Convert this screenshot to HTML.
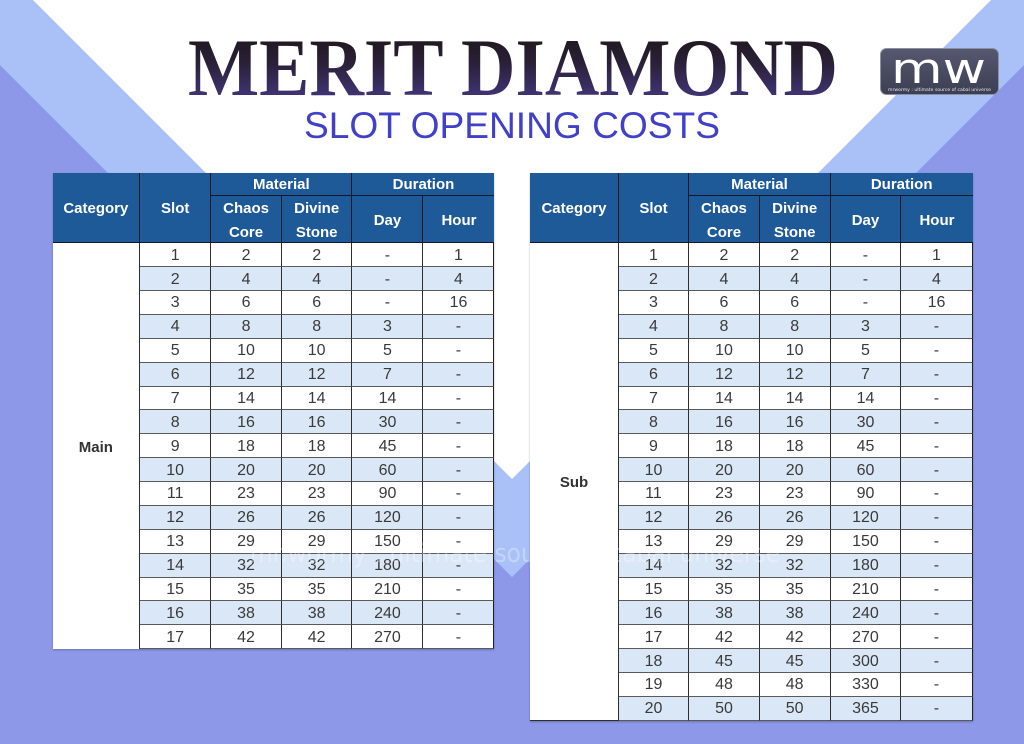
<!DOCTYPE html>
<html>
<head>
<meta charset="utf-8">
<style>
  html,body{margin:0;padding:0;}
  body{width:1024px;height:744px;position:relative;overflow:hidden;background:#fff;font-family:"Liberation Sans",Arial,sans-serif;}
  .bg{position:absolute;left:0;top:0;}
  .tbl{position:absolute;top:172.7px;display:grid;
       grid-template-rows:23.3px 47.3px;grid-auto-rows:23.88px;
       box-shadow:0 1px 2px rgba(0,0,0,0.25);}
  .tbl > div.h, .tbl > div.cat, .tbl > .r > div{box-sizing:border-box;display:flex;align-items:center;justify-content:center;text-align:center;}
  .tbl > .r{display:contents;}
  .h{background:#1f5a98;color:#fff;font-weight:bold;font-size:15px;line-height:24px;padding-top:3px;border-right:1px solid #0d1a2c;border-bottom:1px solid #0d1a2c;}
  .h.last{border-right:none;}
  .r > div{background:#fff;color:#3a3a3a;font-size:16px;padding-top:2px;border-right:1px solid #2e2e2e;border-bottom:1px solid #5a5a5a;}
  .r.b > div{background:#dae7f6;}
  .r > div:last-child{border-right:1px solid #1e1e1e;}
  .cat{background:#fff;color:#333;font-weight:bold;font-size:15px;padding-top:2px;border-right:1px solid #2e2e2e;}
  .wm{position:absolute;left:0;top:0;pointer-events:none;}
</style>
</head>
<body>
<svg class="bg" width="1024" height="744" viewBox="0 0 1024 744">
  <rect width="1024" height="744" fill="#ffffff"/>
  <polygon points="0,0 33,0 512,479 991,0 1024,0 1024,744 0,744" fill="#a9c1f6"/>
  <polygon points="0,65 512,577 1024,65 1024,744 0,744" fill="#8d99e8"/>
  <defs>
    <linearGradient id="tg" x1="0" y1="0" x2="0" y2="1">
      <stop offset="0" stop-color="#1a1210"/>
      <stop offset="0.45" stop-color="#2a2038"/>
      <stop offset="1" stop-color="#4a3e92"/>
    </linearGradient>
    <linearGradient id="lg" x1="0" y1="0" x2="0" y2="1">
      <stop offset="0" stop-color="#55586f"/>
      <stop offset="1" stop-color="#3c3e52"/>
    </linearGradient>
  </defs>
  <text x="188" y="95" textLength="650" lengthAdjust="spacingAndGlyphs" font-family="Liberation Serif, serif" font-weight="bold" font-size="82" fill="url(#tg)">MERIT DIAMOND</text>
  <text x="304" y="138" textLength="416" lengthAdjust="spacingAndGlyphs" font-family="Liberation Sans, sans-serif" font-size="37" fill="#4040c8">SLOT OPENING COSTS</text>
  <rect x="880.5" y="48.5" width="118" height="46" rx="6" fill="url(#lg)" stroke="#8c8fa6" stroke-width="1"/>
  <text x="891" y="83" textLength="95" lengthAdjust="spacingAndGlyphs" font-family="DejaVu Sans, sans-serif" font-size="42" fill="#ffffff">mw</text>
  <text x="888" y="91" textLength="103" lengthAdjust="spacingAndGlyphs" font-family="DejaVu Sans, sans-serif" font-size="4.5" fill="#e8e8f0">mrwormy : ultimate source of cabal universe</text>
</svg>

<!-- LEFT TABLE -->
<div class="tbl" style="left:52.5px;grid-template-columns:87.7px 71px 70.7px 70.6px 71px 71px;">
  <div class="h" style="grid-row:1 / span 2;grid-column:1;">Category</div>
  <div class="h" style="grid-row:1 / span 2;grid-column:2;">Slot</div>
  <div class="h" style="grid-row:1;grid-column:3 / span 2;">Material</div>
  <div class="h last" style="grid-row:1;grid-column:5 / span 2;">Duration</div>
  <div class="h" style="grid-row:2;grid-column:3;">Chaos<br>Core</div>
  <div class="h" style="grid-row:2;grid-column:4;">Divine<br>Stone</div>
  <div class="h" style="grid-row:2;grid-column:5;">Day</div>
  <div class="h last" style="grid-row:2;grid-column:6;">Hour</div>
  <div class="cat" style="grid-row:3 / span 17;grid-column:1;">Main</div>
  <div class="r"><div>1</div><div>2</div><div>2</div><div>-</div><div>1</div></div>
  <div class="r b"><div>2</div><div>4</div><div>4</div><div>-</div><div>4</div></div>
  <div class="r"><div>3</div><div>6</div><div>6</div><div>-</div><div>16</div></div>
  <div class="r b"><div>4</div><div>8</div><div>8</div><div>3</div><div>-</div></div>
  <div class="r"><div>5</div><div>10</div><div>10</div><div>5</div><div>-</div></div>
  <div class="r b"><div>6</div><div>12</div><div>12</div><div>7</div><div>-</div></div>
  <div class="r"><div>7</div><div>14</div><div>14</div><div>14</div><div>-</div></div>
  <div class="r b"><div>8</div><div>16</div><div>16</div><div>30</div><div>-</div></div>
  <div class="r"><div>9</div><div>18</div><div>18</div><div>45</div><div>-</div></div>
  <div class="r b"><div>10</div><div>20</div><div>20</div><div>60</div><div>-</div></div>
  <div class="r"><div>11</div><div>23</div><div>23</div><div>90</div><div>-</div></div>
  <div class="r b"><div>12</div><div>26</div><div>26</div><div>120</div><div>-</div></div>
  <div class="r"><div>13</div><div>29</div><div>29</div><div>150</div><div>-</div></div>
  <div class="r b"><div>14</div><div>32</div><div>32</div><div>180</div><div>-</div></div>
  <div class="r"><div>15</div><div>35</div><div>35</div><div>210</div><div>-</div></div>
  <div class="r b"><div>16</div><div>38</div><div>38</div><div>240</div><div>-</div></div>
  <div class="r"><div>17</div><div>42</div><div>42</div><div>270</div><div>-</div></div>
</div>

<!-- RIGHT TABLE -->
<div class="tbl" style="left:530.3px;grid-template-columns:88.4px 70.6px 70.4px 71px 70.6px 71.4px;">
  <div class="h" style="grid-row:1 / span 2;grid-column:1;">Category</div>
  <div class="h" style="grid-row:1 / span 2;grid-column:2;">Slot</div>
  <div class="h" style="grid-row:1;grid-column:3 / span 2;">Material</div>
  <div class="h last" style="grid-row:1;grid-column:5 / span 2;">Duration</div>
  <div class="h" style="grid-row:2;grid-column:3;">Chaos<br>Core</div>
  <div class="h" style="grid-row:2;grid-column:4;">Divine<br>Stone</div>
  <div class="h" style="grid-row:2;grid-column:5;">Day</div>
  <div class="h last" style="grid-row:2;grid-column:6;">Hour</div>
  <div class="cat" style="grid-row:3 / span 20;grid-column:1;border-bottom:1px solid #2e2e2e;">Sub</div>
  <div class="r"><div>1</div><div>2</div><div>2</div><div>-</div><div>1</div></div>
  <div class="r b"><div>2</div><div>4</div><div>4</div><div>-</div><div>4</div></div>
  <div class="r"><div>3</div><div>6</div><div>6</div><div>-</div><div>16</div></div>
  <div class="r b"><div>4</div><div>8</div><div>8</div><div>3</div><div>-</div></div>
  <div class="r"><div>5</div><div>10</div><div>10</div><div>5</div><div>-</div></div>
  <div class="r b"><div>6</div><div>12</div><div>12</div><div>7</div><div>-</div></div>
  <div class="r"><div>7</div><div>14</div><div>14</div><div>14</div><div>-</div></div>
  <div class="r b"><div>8</div><div>16</div><div>16</div><div>30</div><div>-</div></div>
  <div class="r"><div>9</div><div>18</div><div>18</div><div>45</div><div>-</div></div>
  <div class="r b"><div>10</div><div>20</div><div>20</div><div>60</div><div>-</div></div>
  <div class="r"><div>11</div><div>23</div><div>23</div><div>90</div><div>-</div></div>
  <div class="r b"><div>12</div><div>26</div><div>26</div><div>120</div><div>-</div></div>
  <div class="r"><div>13</div><div>29</div><div>29</div><div>150</div><div>-</div></div>
  <div class="r b"><div>14</div><div>32</div><div>32</div><div>180</div><div>-</div></div>
  <div class="r"><div>15</div><div>35</div><div>35</div><div>210</div><div>-</div></div>
  <div class="r b"><div>16</div><div>38</div><div>38</div><div>240</div><div>-</div></div>
  <div class="r"><div>17</div><div>42</div><div>42</div><div>270</div><div>-</div></div>
  <div class="r b"><div>18</div><div>45</div><div>45</div><div>300</div><div>-</div></div>
  <div class="r"><div>19</div><div>48</div><div>48</div><div>330</div><div>-</div></div>
  <div class="r b"><div>20</div><div>50</div><div>50</div><div>365</div><div>-</div></div>
</div>

<svg class="wm" width="1024" height="744" viewBox="0 0 1024 744">
  <text x="250" y="562" textLength="530" lengthAdjust="spacingAndGlyphs" font-family="DejaVu Sans, sans-serif" font-size="26" fill="#ffffff" fill-opacity="0.3">mr.wormy : ultimate source of cabal universe</text>
</svg>
</body>
</html>
